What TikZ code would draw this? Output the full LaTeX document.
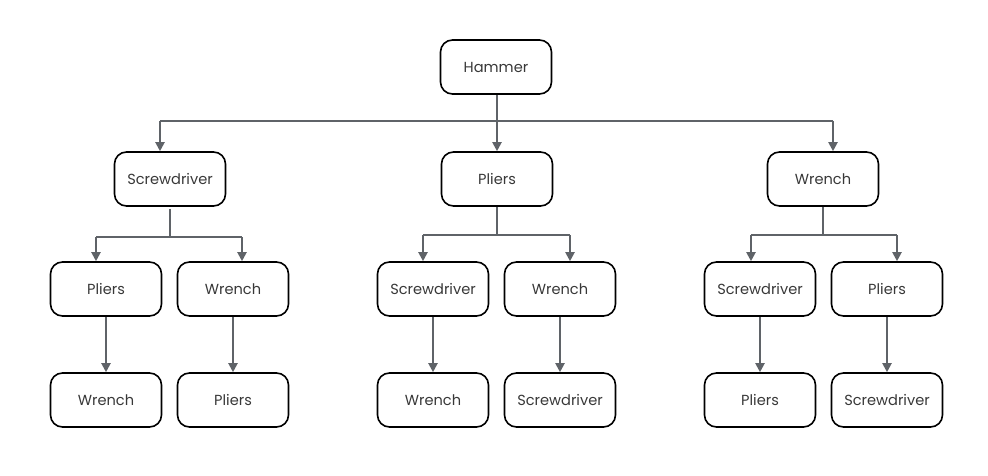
\documentclass[tikz,border=0pt]{standalone}
\usepackage{fontspec}
\setmainfont{Poppins}
\usetikzlibrary{arrows.meta,calc}
\definecolor{conn}{HTML}{5F6368}
\definecolor{txt}{HTML}{383838}
\begin{document}
\begin{tikzpicture}[x=1pt,y=-1pt,
  box/.style={draw=black,line width=1.6pt,rounded corners=12pt,minimum width=111pt,minimum height=54pt,inner sep=0pt,text=txt,font=\fontsize{14.6}{18}\selectfont},
  wire/.style={draw=conn,line width=2pt},
  arr/.style={wire,-{Triangle[length=9pt,width=9pt]}}]
\useasboundingbox (0,0) rectangle (988,476);
% level 0
\node[box] (ham) at (496,67) {Hammer};
% level 1
\node[box] (s1) at (170,179) {Screwdriver};
\node[box] (p1) at (497,179) {Pliers};
\node[box] (w1) at (823,179) {Wrench};
% level 2
\node[box] (a2) at (106,289) {Pliers};
\node[box] (b2) at (233,289) {Wrench};
\node[box] (c2) at (433,289) {Screwdriver};
\node[box] (d2) at (560,289) {Wrench};
\node[box] (e2) at (760,289) {Screwdriver};
\node[box] (f2) at (887,289) {Pliers};
% level 3
\node[box] (a3) at (106,400) {Wrench};
\node[box] (b3) at (233,400) {Pliers};
\node[box] (c3) at (433,400) {Wrench};
\node[box] (d3) at (560,400) {Screwdriver};
\node[box] (e3) at (760,400) {Pliers};
\node[box] (f3) at (887,400) {Screwdriver};
% top bus
\coordinate (tl) at (160,121);
\coordinate (tr) at (833,121);
\draw[wire] (tl) -- (tr);
\draw[arr] (ham.south -| p1.north) -- (p1.north);
\draw[arr] (tl) -- (tl |- s1.north);
\draw[arr] (tr) -- (tr |- w1.north);
% left sub-tree bus
\coordinate (sm) at (170,237);
\coordinate (sl) at (96,237);
\coordinate (sr) at (242,237);
\draw[wire] ($(s1.south)+(0,2)$) -- (sm);
\draw[wire] (sl) -- (sr);
\draw[arr] (sl) -- (sl |- a2.north);
\draw[arr] (sr) -- (sr |- b2.north);
% middle sub-tree bus
\coordinate (pm) at (497,235);
\coordinate (pl) at (423,235);
\coordinate (pr) at (570,235);
\draw[wire] (p1.south) -- (pm);
\draw[wire] (pl) -- (pr);
\draw[arr] (pl) -- (pl |- c2.north);
\draw[arr] (pr) -- (pr |- d2.north);
% right sub-tree bus
\coordinate (wm) at (823,235);
\coordinate (wl) at (751,235);
\coordinate (wr) at (897,235);
\draw[wire] (w1.south) -- (wm);
\draw[wire] (wl) -- (wr);
\draw[arr] (wl) -- (wl |- e2.north);
\draw[arr] (wr) -- (wr |- f2.north);
% level 2 to level 3
\draw[arr] (a2) -- (a3);
\draw[arr] (b2) -- (b3);
\draw[arr] (c2) -- (c3);
\draw[arr] (d2) -- (d3);
\draw[arr] (e2) -- (e3);
\draw[arr] (f2) -- (f3);
\end{tikzpicture}
\end{document}
